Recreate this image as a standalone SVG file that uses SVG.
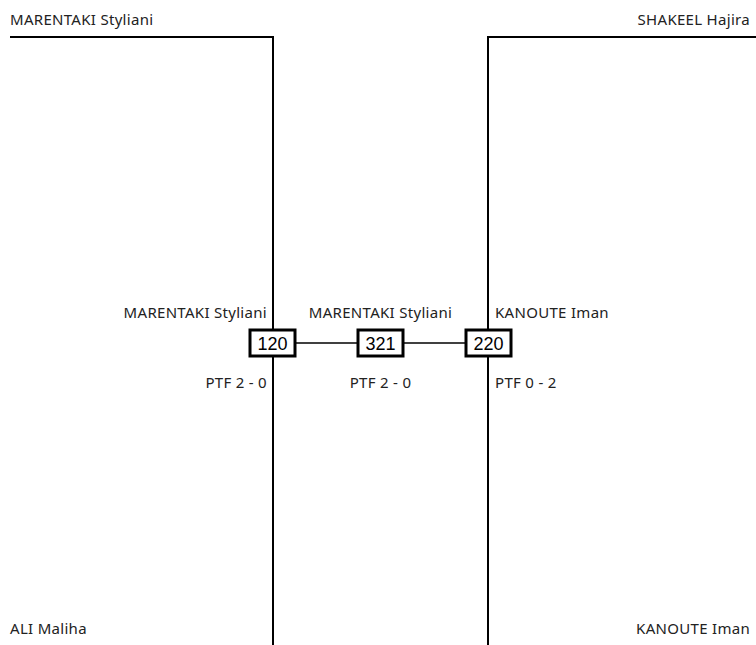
<svg xmlns="http://www.w3.org/2000/svg" width="756" height="645" viewBox="0 0 756 645">
<style>
.lbl{font-family:"Noto Sans","Open Sans",sans-serif;font-size:15px;letter-spacing:0.3px;fill:#222}
.num{font-family:"Liberation Sans",Arial,sans-serif;font-size:18px;fill:#000}
.br{fill:none;stroke:#000;stroke-width:2}
.box{fill:#fff;stroke:#000;stroke-width:3}
.conn{stroke:#000;stroke-width:1.5;fill:none}
</style>
<rect width="756" height="645" fill="#fff"/>
<g id="bracket-left">
<polyline class="br" points="10,37 273,37 273,645"/>
<text class="lbl" x="10" y="25">MARENTAKI Styliani</text>
<text class="lbl" x="10" y="634">ALI Maliha</text>
</g>
<g id="bracket-right">
<polyline class="br" points="756,37 488,37 488,645"/>
<text class="lbl" x="750" y="25" text-anchor="end">SHAKEEL Hajira</text>
<text class="lbl" x="750" y="634" text-anchor="end">KANOUTE Iman</text>
</g>
<g id="connectors">
<line class="conn" x1="296" y1="343" x2="358" y2="343"/>
<line class="conn" x1="403" y1="343" x2="465" y2="343"/>
</g>
<g id="match-120">
<rect class="box" x="250" y="330" width="45" height="26"/>
<text class="num" x="272.5" y="350" text-anchor="middle">120</text>
<text class="lbl" x="267" y="318" text-anchor="end">MARENTAKI Styliani</text>
<text class="lbl" x="267" y="388" text-anchor="end">PTF 2 - 0</text>
</g>
<g id="match-321">
<rect class="box" x="358" y="330" width="45" height="26"/>
<text class="num" x="380.5" y="350" text-anchor="middle">321</text>
<text class="lbl" x="380.5" y="318" text-anchor="middle">MARENTAKI Styliani</text>
<text class="lbl" x="380.5" y="388" text-anchor="middle">PTF 2 - 0</text>
</g>
<g id="match-220">
<rect class="box" x="466" y="330" width="45" height="26"/>
<text class="num" x="488.5" y="350" text-anchor="middle">220</text>
<text class="lbl" x="495" y="318">KANOUTE Iman</text>
<text class="lbl" x="495" y="388">PTF 0 - 2</text>
</g>
</svg>
